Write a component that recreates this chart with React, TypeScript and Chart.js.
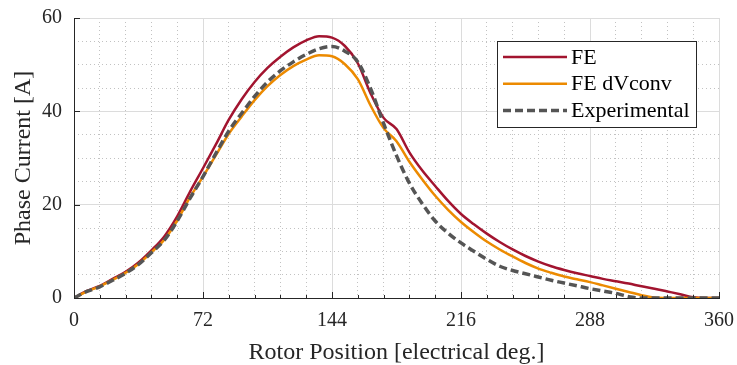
import React, { useEffect, useRef } from 'react';
import { Chart, registerables } from 'chart.js';

Chart.register(...registerables);

const angles = [0, 7.2, 14.4, 21.6, 28.8, 36, 43.2, 50.4, 57.6, 64.8, 72, 79.2, 86.4, 93.6, 100.8, 108, 115.2, 122.4, 129.6, 136.8, 144, 151.2, 158.4, 165.6, 172.8, 180, 187.2, 194.4, 201.6, 208.8, 216, 223.2, 230.4, 237.6, 244.8, 252, 259.2, 266.4, 273.6, 280.8, 288, 295.2, 302.4, 309.6, 316.8, 324, 331.2, 338.4, 345.6, 352.8, 360];

const feCurrent = [0, 1.5, 2.6, 4.1, 5.6, 7.6, 10.2, 13.2, 17.5, 22.8, 27.8, 32.9, 38.2, 42.6, 46.3, 49.3, 51.7, 53.7, 55.2, 56.1, 55.8, 54.0, 50.3, 43.8, 38.6, 36.2, 31.2, 27.3, 24.0, 20.8, 18.0, 15.8, 13.8, 12.0, 10.4, 9.0, 7.8, 6.8, 6.0, 5.3, 4.7, 4.1, 3.6, 3.1, 2.5, 2.0, 1.4, 0.8, 0.15, 0, 0];

const dvconvCurrent = [0, 1.4, 2.5, 3.9, 5.4, 7.3, 9.8, 12.5, 16.6, 21.6, 26.0, 30.6, 35.2, 38.9, 42.4, 45.4, 47.8, 49.7, 51.1, 52.0, 51.8, 50.1, 46.9, 41.2, 36.4, 33.6, 29.2, 25.4, 21.9, 18.9, 16.3, 14.1, 12.1, 10.4, 8.9, 7.5, 6.3, 5.4, 4.6, 4.0, 3.4, 2.7, 2.0, 1.3, 0.6, 0.1, 0, 0, 0, 0, 0];

const expCurrent = [0, 1.4, 2.4, 3.8, 5.3, 7.2, 9.7, 12.4, 16.5, 21.4, 26.0, 31.0, 35.8, 39.6, 43.2, 46.3, 48.7, 50.6, 52.2, 53.4, 53.9, 52.9, 50.6, 44.8, 37.4, 30.5, 24.6, 20.2, 16.5, 13.9, 11.8, 10.0, 8.3, 6.8, 5.9, 5.2, 4.5, 3.8, 3.2, 2.6, 2.0, 1.5, 1.0, 0.3, 0, 0, 0, 0, 0, 0, 0];

const xTicks = [0, 72, 144, 216, 288, 360];
const yTicks = [0, 20, 40, 60];
const seriesLabels = ['FE', 'FE dVconv', 'Experimental'];
const seriesColors = ['#A2142F', '#EC8A00', '#555555'];

const FONT = '"Liberation Serif", "Times New Roman", serif';
const TEXT = '#262626';

const isMultiple = (v: number, step: number) => Math.abs(v / step - Math.round(v / step)) < 1e-6;
const zeroPad = (s: any) => { s.paddingTop = 0; s.paddingBottom = 0; s.paddingLeft = 0; s.paddingRight = 0; };

const insideTicks = {
  id: 'insideTicks',
  afterDatasetsDraw(chart: any) {
    const ctx = chart.ctx;
    const { left, bottom } = chart.chartArea;
    const sx = chart.scales.x, sx2 = chart.scales.x2, sy = chart.scales.y;
    ctx.save();
    ctx.strokeStyle = '#262626';
    ctx.lineWidth = 1;
    ctx.beginPath();
    sx.ticks.forEach((t: any) => {
      const p = Math.round(sx.getPixelForValue(t.value)) + 0.5;
      ctx.moveTo(p, bottom); ctx.lineTo(p, bottom - 6);
    });
    sx2.ticks.forEach((t: any) => {
      const p = Math.round(sx2.getPixelForValue(t.value)) + 0.5;
      ctx.moveTo(p, bottom); ctx.lineTo(p, bottom - 3);
    });
    sy.ticks.forEach((t: any) => {
      const p = Math.round(sy.getPixelForValue(t.value)) + 0.5;
      ctx.moveTo(left, p); ctx.lineTo(left + 6, p);
    });
    ctx.stroke();
    ctx.restore();
  },
};

const boxLegend = {
  id: 'boxLegend',
  afterDraw(chart: any) {
    const ctx = chart.ctx;
    const area = chart.chartArea;
    const w = 199, h = 86;
    const x0 = area.right - 23 - w;
    const y0 = area.top + 23;
    ctx.save();
    ctx.fillStyle = '#ffffff';
    ctx.fillRect(x0, y0, w, h);
    ctx.strokeStyle = '#262626';
    ctx.lineWidth = 1;
    ctx.strokeRect(x0 + 0.5, y0 + 0.5, w, h);
    ctx.font = `22px ${FONT}`;
    ctx.textBaseline = 'middle';
    ctx.textAlign = 'left';
    chart.data.datasets.forEach((ds: any, i: number) => {
      const yy = y0 + 16 + i * 26.7;
      ctx.strokeStyle = ds.borderColor;
      ctx.lineWidth = ds.borderWidth;
      ctx.setLineDash(ds.borderDash || []);
      ctx.beginPath();
      ctx.moveTo(x0 + 6, yy);
      ctx.lineTo(x0 + 70, yy);
      ctx.stroke();
      ctx.setLineDash([]);
      ctx.fillStyle = '#000000';
      ctx.fillText(ds.label, x0 + 74, yy + 1);
    });
    ctx.restore();
  },
};

export default function App() {
  const ref = useRef<HTMLCanvasElement | null>(null);
  useEffect(() => {
    if (!ref.current) return;
    const mk = (vals: number[]) => angles.map((a, i) => ({ x: a, y: vals[i] }));
    const font = { family: FONT, size: 20 };
    const titleFont = { family: FONT, size: 24, lineHeight: 1 };
    const chart = new Chart(ref.current, {
      type: 'line',
      data: {
        datasets: [
          { label: seriesLabels[0], data: mk(feCurrent), borderColor: seriesColors[0], borderWidth: 2.5, pointRadius: 0, cubicInterpolationMode: 'monotone', order: 2 },
          { label: seriesLabels[1], data: mk(dvconvCurrent), borderColor: seriesColors[1], borderWidth: 2.5, pointRadius: 0, cubicInterpolationMode: 'monotone', order: 1 },
          { label: seriesLabels[2], data: mk(expCurrent), borderColor: seriesColors[2], borderWidth: 3.5, borderDash: [8, 4], pointRadius: 0, cubicInterpolationMode: 'monotone', order: 0 },
        ],
      } as any,
      options: {
        responsive: false,
        animation: false,
        layout: { padding: { left: 0, top: 18, right: 18, bottom: 0 } },
        plugins: { legend: { display: false }, tooltip: { enabled: false } },
        scales: {
          x2: {
            type: 'linear', position: 'bottom', min: 0, max: 360,
            ticks: { display: false, stepSize: 14.4 },
            afterBuildTicks: (s: any) => { s.ticks = s.ticks.filter((t: any) => !isMultiple(t.value, 72)); },
            grid: { color: '#c2c2c2', lineWidth: 1, drawTicks: false },
            border: { display: false, dash: [1, 3] },
            afterFit: (s: any) => { s.height = 0; zeroPad(s); },
          },
          y2: {
            type: 'linear', position: 'left', min: 0, max: 60,
            ticks: { display: false, stepSize: 5 },
            afterBuildTicks: (s: any) => { s.ticks = s.ticks.filter((t: any) => !isMultiple(t.value, 20)); },
            grid: { color: '#c2c2c2', lineWidth: 1, drawTicks: false },
            border: { display: false, dash: [1, 3] },
            afterFit: (s: any) => { s.width = 0; zeroPad(s); },
          },
          x: {
            type: 'linear', position: 'bottom', min: 0, max: 360,
            afterBuildTicks: (s: any) => { s.ticks = xTicks.map((v) => ({ value: v })); },
            ticks: { font, color: TEXT, padding: 11, maxRotation: 0, autoSkip: false },
            grid: { color: '#dcdcdc', lineWidth: 1, drawTicks: false },
            border: { color: '#262626', width: 1 },
            title: { display: true, text: 'Rotor Position [electrical deg.]', font: titleFont, color: TEXT, padding: { top: 0, bottom: 0 } },
            afterFit: (s: any) => { s.height = 67; zeroPad(s); },
          },
          y: {
            type: 'linear', position: 'left', min: 0, max: 60,
            afterBuildTicks: (s: any) => { s.ticks = yTicks.map((v) => ({ value: v })); },
            ticks: { font, color: TEXT, padding: 12 },
            grid: { color: '#dcdcdc', lineWidth: 1, drawTicks: false },
            border: { color: '#262626', width: 1 },
            title: { display: true, text: 'Phase Current [A]', font: titleFont, color: TEXT, padding: { top: 12, bottom: 0 } },
            afterFit: (s: any) => { s.width = 74; zeroPad(s); },
          },
        },
      } as any,
      plugins: [insideTicks, boxLegend],
    });
    return () => chart.destroy();
  }, []);
  return (
    <div style={{ position: 'fixed', left: 0, top: 0, width: 737, height: 365, background: '#fff' }}>
      <canvas ref={ref} width={737} height={365} style={{ display: 'block' }} />
    </div>
  );
}
